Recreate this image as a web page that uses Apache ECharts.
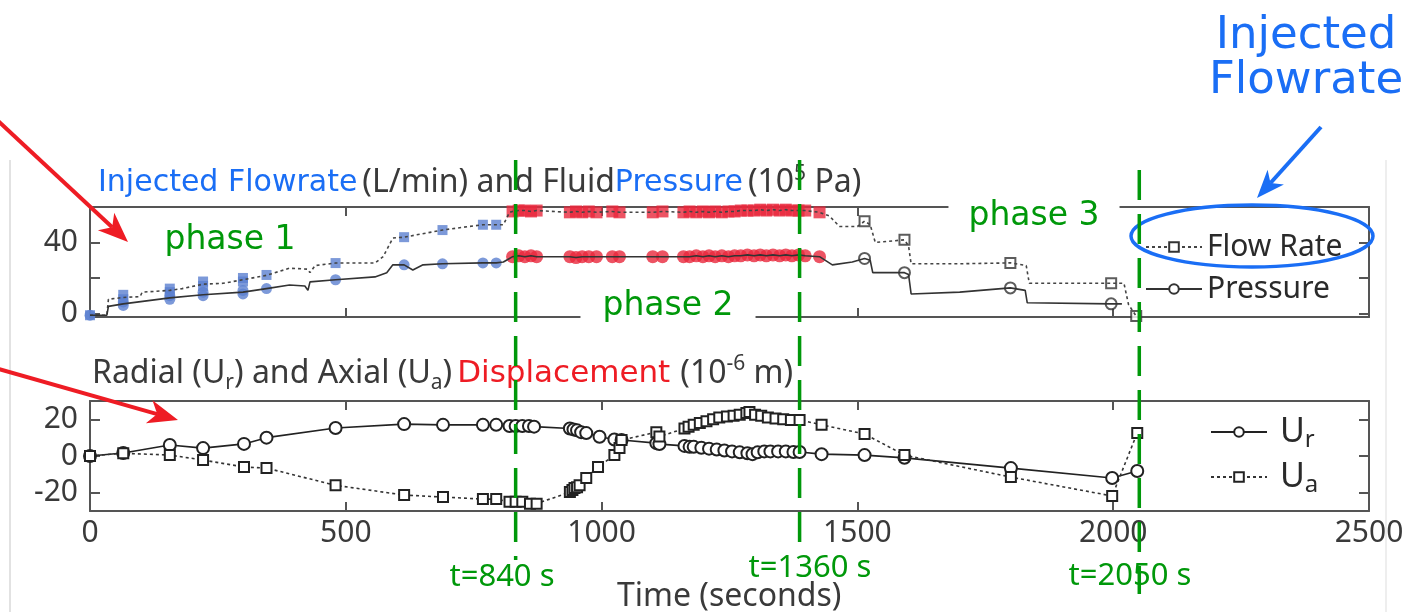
<!DOCTYPE html>
<html>
<head>
<meta charset="utf-8">
<script src="https://cdn.jsdelivr.net/npm/echarts@6/dist/echarts.min.js"></script>
<style>
html,body{margin:0;padding:0;background:#fff}
#chart{width:1420px;height:612px}
</style>
</head>
<body>
<div id="chart"></div>
<script>
// ---- data (time in s) ----
// top panel: flow rate (L/min) dotted, pressure (1e5 Pa) solid
const flowLineP1 = [[0,-1],[33,-1],[36,8],[65,9],[98,9.5],[102,12],[156,13],[180,14],[221,16.5],[260,17],[299,19],[345,21.5],[390,25.5],[425,25],[430,23],[440,27],[480,28.4],[557,28.4],[573,32],[592,42.5],[614,43],[689,47],[740,49],[768,50],[794,50],[808,50],[820,57]];
const flowLineP3 = [[1445,55],[1465,49],[1500,49],[1514,52],[1525,50],[1535,40],[1592,41.5],[1600,38],[1605,28],[1700,28],[1799,28.5],[1830,27],[1836,17],[1996,17],[2021,17],[2030,5],[2045,-1.5]];
const pressLineP1 = [[0,-1],[33,-1],[36,4],[65,5.4],[156,8.8],[221,10.5],[299,12],[345,14],[390,16],[420,15.5],[426,13],[430,17.8],[480,19],[557,20.6],[580,23],[592,27.4],[614,27.4],[631,24.5],[651,27.4],[689,28],[768,28.5],[794,28.5],[808,29],[820,31]];
const pressLineP3 = [[1451,27.4],[1490,29],[1514,31],[1525,30],[1530,23],[1592,23],[1600,22],[1605,11],[1700,12],[1799,14.4],[1828,13],[1832,6],[1996,5.4],[2017,5.4]];

const flowP1 = [[0,-1],[65,8],[65,10.5],[156,12],[156,14],[221,15.5],[221,18],[299,18],[299,20],[345,21.7],[480,28.4],[614,43],[689,47],[768,50],[794,50]];
const pressP1 = [[0,-1],[65,4.5],[65,6.5],[156,8],[156,10],[221,10],[221,12],[299,11],[299,13],[345,14],[480,19],[614,27.4],[689,28],[768,28.5],[794,28.5]];
const flowP2 = [[826,57.5],[838,58],[850,58],[862,57.5],[873,58],[938,57],[950,57.5],[962,57],[975,57.5],[990,57],[1021,57.5],[1035,57],[1100,57],[1119,57.5],[1160,57],[1172,57.5],[1185,57],[1198,57.5],[1210,57],[1222,57.5],[1235,57],[1248,57.5],[1260,57.5],[1272,58],[1285,58],[1298,58],[1310,58.5],[1322,58],[1335,58.5],[1348,58],[1360,58.5],[1372,58],[1385,58],[1398,58],[1426,57]];
const pressP2 = [[826,32],[838,32.5],[850,32],[862,32.5],[873,32],[938,32],[950,31.5],[962,32],[975,32],[990,32],[1021,32],[1035,32],[1100,32],[1119,32],[1160,32],[1172,32],[1185,32.5],[1198,32],[1210,32.5],[1222,32],[1235,32.5],[1248,32],[1260,32.5],[1272,32.5],[1285,33],[1298,32.5],[1310,33],[1322,32.5],[1335,33],[1348,32.5],[1360,33],[1372,32.5],[1385,33],[1398,32.5],[1426,32]];
const flowP3 = [[1514,52],[1592,41.5],[1799,28.5],[1996,17],[2045,-1.5]];
const pressP3 = [[1514,31],[1592,23],[1799,14.4],[1996,5.4]];

// bottom panel: displacement (1e-6 m)
const urData = [[0,0],[65,1.6],[156,6],[221,4.3],[301,6.6],[345,10],[480,15.3],[614,17.4],[690,17],[768,17],[794,17],[820,16.4],[832,16.4],[845,16.4],[858,16.4],[868,16],[938,15],[945,14.5],[952,14],[960,13],[970,12.5],[996,10.5],[1025,9],[1039,8.7],[1107,7],[1113,6.5],[1162,5.5],[1172,5],[1180,5],[1195,4.5],[1210,4],[1225,3.5],[1240,3],[1255,2.5],[1270,2],[1285,1.5],[1295,1],[1305,2],[1318,2.5],[1330,2.5],[1345,2.5],[1360,2.5],[1375,2.2],[1387,2.2],[1430,1],[1514,0.5],[1592,-1],[1800,-6.6],[1998,-12],[2047,-8.2]];
const uaData = [[0,0],[65,1.5],[156,0.5],[221,-2.2],[301,-6],[345,-6.6],[480,-16],[614,-21.3],[690,-22.4],[768,-23.5],[794,-23.5],[820,-25],[832,-25],[845,-25],[860,-26],[873,-26],[938,-19.7],[943,-18.5],[947,-17.5],[952,-17],[957,-16],[970,-12],[993,-6],[1025,0.5],[1035,4.4],[1039,8.7],[1107,13],[1113,10.6],[1162,15],[1170,16],[1180,17],[1192,18],[1205,19],[1218,20],[1230,21],[1245,21.5],[1258,22],[1270,22.5],[1283,23.5],[1289,24],[1300,22.5],[1312,22],[1325,21],[1340,20.5],[1355,20],[1370,19.7],[1387,19.7],[1430,17],[1514,12],[1592,0.5],[1800,-11.5],[1998,-21.8],[2047,12.6]];

const topTicks = [0, 20, 40];
const topLabels = [0, 40];
const botTicks = [-20, 0, 20];
const phaseLineX = [832, 1387, 2051];
const phaseLineLabels = ['t=840 s', 't=1360 s', 't=2050 s'];

const GRAY = '#3a3a3a';
const BLUE = '#1a6ef5';
const GREEN = '#00980a';
const RED = '#ee1c24';

const chart = echarts.init(document.getElementById('chart'));

function xAx(grid, pos, labels) {
  return {
    type: 'value', gridIndex: grid, position: pos, min: 0, max: 2500, interval: 500,
    axisLine: { onZero: false, lineStyle: { color: '#555', width: 2 } },
    axisTick: { inside: true, length: 9, lineStyle: { color: '#555', width: 2 } },
    axisLabel: { show: labels, color: GRAY, fontSize: 30, fontFamily: 'Noto Sans', margin: 7,
      formatter: function (v) { return String(v); } },
    splitLine: { show: false }
  };
}
function yAx(grid, pos, min, max, ticks, labels) {
  return {
    type: 'value', gridIndex: grid, position: pos, min: min, max: max,
    axisLine: { onZero: false, lineStyle: { color: '#555', width: 2 } },
    axisTick: { inside: true, length: 10, customValues: ticks, lineStyle: { color: '#555', width: 2 } },
    axisLabel: { show: !!labels, customValues: labels || ticks, color: GRAY, fontSize: 30, fontFamily: 'Noto Sans', margin: 12 },
    splitLine: { show: false }
  };
}

const lineDot = { color: '#444', width: 1.6, type: [3, 3] };
const lineSolid = { color: '#333', width: 1.6 };

chart.setOption({
  animation: false,
  backgroundColor: '#fff',
  grid: [
    { left: 90, right: 51, top: 207, height: 110 },
    { left: 90, right: 51, top: 401, height: 110 }
  ],
  xAxis: [xAx(0, 'bottom', false), xAx(0, 'top', false), xAx(1, 'bottom', true), xAx(1, 'top', false)],
  yAxis: [
    yAx(0, 'left', -2, 60, topTicks, topLabels),
    yAx(0, 'right', -2, 60, topTicks, null),
    yAx(1, 'left', -30, 30, botTicks, botTicks),
    yAx(1, 'right', -30, 30, botTicks, null)
  ],
  title: [
    {
      left: 94, top: 162, padding: [2, 4], backgroundColor: '#fff',
      text: '{b|Injected Flowrate} {k|(L/min) and Fluid}{b|Pressure} {k|(10}{sup|5}{k| Pa)}',
      textStyle: { fontWeight: 'normal', rich: {
        b: { color: BLUE, fontSize: 30, fontFamily: 'DejaVu Sans', fontWeight: 'normal', lineHeight: 38 },
        k: { color: GRAY, fontSize: 32, fontFamily: 'Noto Sans', fontWeight: 'normal', lineHeight: 38 },
        sup: { color: GRAY, fontSize: 21, fontFamily: 'Noto Sans', fontWeight: 'normal', lineHeight: 20, verticalAlign: 'top' }
      } }
    },
    {
      left: 88, top: 352, padding: [2, 4], backgroundColor: '#fff',
      text: '{k|Radial (U}{sub|r}{k|) and Axial (U}{sub|a}{k|)} {r|Displacement}  {k|(10}{sup|-6}{k| m)}',
      textStyle: { fontWeight: 'normal', rich: {
        r: { color: RED, fontSize: 31, fontFamily: 'DejaVu Sans', fontWeight: 'normal', lineHeight: 40 },
        k: { color: GRAY, fontSize: 32, fontFamily: 'Noto Sans', fontWeight: 'normal', lineHeight: 40 },
        sup: { color: GRAY, fontSize: 21, fontFamily: 'Noto Sans', fontWeight: 'normal', lineHeight: 20, verticalAlign: 'top' },
        sub: { color: GRAY, fontSize: 21, fontFamily: 'Noto Sans', fontWeight: 'normal', lineHeight: 20, verticalAlign: 'bottom' }
      } }
    },
    {
      left: 612, top: 576, text: 'Time (seconds)',
      textStyle: { color: GRAY, fontSize: 32, fontFamily: 'Noto Sans', fontWeight: 'normal' }
    }
  ],
  legend: [
    {
      data: ['Flow Rate', 'Pressure'], orient: 'vertical', left: 1140, top: 224,
      itemWidth: 56, itemHeight: 12, itemGap: 6, selectedMode: false,
      textStyle: { color: '#2a2a2a', fontSize: 30, fontFamily: 'Noto Sans', lineHeight: 36 }
    },
    {
      data: ['Ur', 'Ua'], orient: 'vertical', left: 1205, top: 410,
      itemWidth: 56, itemHeight: 12, itemGap: 8, selectedMode: false,
      formatter: function (n) { return n === 'Ur' ? '{u|U}{s|r}' : '{u|U}{s|a}'; },
      textStyle: { rich: {
        u: { color: '#2a2a2a', fontSize: 34, fontFamily: 'Noto Sans', lineHeight: 40, padding: [0, 0, 0, 8] },
        s: { color: '#2a2a2a', fontSize: 24, fontFamily: 'Noto Sans', lineHeight: 24, verticalAlign: 'bottom' }
      } }
    }
  ],
  series: [
    { name: 'Flow Rate', type: 'line', xAxisIndex: 0, yAxisIndex: 0, data: flowLineP1.concat(flowP2, flowLineP3),
      showSymbol: false, symbol: 'emptyRect', lineStyle: lineDot, itemStyle: { color: '#333' } },
    { name: 'Pressure', type: 'line', xAxisIndex: 0, yAxisIndex: 0, data: pressLineP1.concat(pressP2, pressLineP3),
      showSymbol: false, symbol: 'emptyCircle', lineStyle: lineSolid, itemStyle: { color: '#333' } },
    { type: 'scatter', xAxisIndex: 0, yAxisIndex: 0, data: flowP1, symbol: 'rect', symbolSize: 10, itemStyle: { color: '#5b7fd0' } },
    { type: 'scatter', xAxisIndex: 0, yAxisIndex: 0, data: pressP1, symbol: 'circle', symbolSize: 11, itemStyle: { color: '#5b7fd0' } },
    { type: 'scatter', xAxisIndex: 0, yAxisIndex: 0, data: flowP2, symbol: 'rect', symbolSize: 12, itemStyle: { color: '#e8283c' } },
    { type: 'scatter', xAxisIndex: 0, yAxisIndex: 0, data: pressP2, symbol: 'circle', symbolSize: 13, itemStyle: { color: '#e8283c' } },
    { type: 'scatter', xAxisIndex: 0, yAxisIndex: 0, data: flowP3, symbol: 'emptyRect', symbolSize: 10, itemStyle: { color: '#333', borderWidth: 1.5 } },
    { type: 'scatter', xAxisIndex: 0, yAxisIndex: 0, data: pressP3, symbol: 'emptyCircle', symbolSize: 11, itemStyle: { color: '#333', borderWidth: 1.5 } },
    { name: 'Ur', type: 'line', xAxisIndex: 2, yAxisIndex: 2, data: urData, showSymbol: true,
      symbol: 'emptyCircle', symbolSize: 12, lineStyle: { color: '#222', width: 1.6 }, itemStyle: { color: '#222', borderWidth: 1.5 } },
    { name: 'Ua', type: 'line', xAxisIndex: 2, yAxisIndex: 2, data: uaData, showSymbol: true,
      symbol: 'emptyRect', symbolSize: 10, lineStyle: { color: '#333', width: 1.6, type: [3, 3] }, itemStyle: { color: '#222', borderWidth: 1.5 } }
  ]
});

// ---- annotations ----
function arrow(x1, y1, x2, y2, color, L, W) {
  const dx = x2 - x1, dy = y2 - y1, d = Math.hypot(dx, dy);
  const ux = dx / d, uy = dy / d, px = -uy, py = ux;
  const bx = x2 - ux * L, by = y2 - uy * L;
  const nx = x2 - ux * L * 0.72, ny = y2 - uy * L * 0.72;
  return [
    { type: 'line', z: 100, shape: { x1: x1, y1: y1, x2: nx, y2: ny }, style: { stroke: color, lineWidth: 4 } },
    { type: 'polygon', z: 100, shape: { points: [[x2, y2], [bx + px * W, by + py * W], [nx, ny], [bx - px * W, by - py * W]] }, style: { fill: color } }
  ];
}
function txt(s, x, y, font, color, bg, pad) {
  return { type: 'text', z: 90, x: x, y: y, style: {
    text: s, font: font, fill: color, textAlign: 'center', textVerticalAlign: 'middle', align: 'center', verticalAlign: 'middle',
    backgroundColor: bg || null, padding: pad || 0 } };
}

const g = [];
g.push({ type: 'line', z: 1, shape: { x1: 10, y1: 160, x2: 10, y2: 612 }, style: { stroke: '#e2e2e2', lineWidth: 2 } });
g.push({ type: 'line', z: 1, shape: { x1: 1386, y1: 160, x2: 1386, y2: 612 }, style: { stroke: '#eeeeee', lineWidth: 2 } });
g.push(txt('phase 1', 230, 240, '33px "DejaVu Sans"', GREEN));
g.push(txt('phase 2', 668, 306, '33px "DejaVu Sans"', GREEN, '#fff', [8, 22]));
g.push(txt('phase 3', 1034, 216, '33px "DejaVu Sans"', GREEN, '#fff', [6, 20]));
g.push(txt('Injected\nFlowrate', 1306, 59, '45px "DejaVu Sans"', BLUE));
g.push({ type: 'ellipse', z: 100, shape: { cx: 1252, cy: 236, rx: 121, ry: 31 }, style: { fill: null, stroke: BLUE, lineWidth: 3.5 } });
Array.prototype.push.apply(g, arrow(-5, 118, 128, 242, RED, 30, 12));
Array.prototype.push.apply(g, arrow(-5, 368, 178, 420, RED, 30, 12));
Array.prototype.push.apply(g, arrow(1321, 127, 1257, 198, BLUE, 28, 11));

const lineSpans = [[160, 560], [160, 550], [170, 594]];
const labelPos = [[502, 577], [810, 568], [1130, 576]];
phaseLineX.forEach(function (v, i) {
  const px = chart.convertToPixel({ xAxisIndex: 2 }, v);
  g.push({ type: 'line', z: 110, shape: { x1: px, y1: lineSpans[i][0], x2: px, y2: lineSpans[i][1] },
    style: { stroke: GREEN, lineWidth: 3.5, lineDash: [30, 14] } });
  g.push(txt(phaseLineLabels[i], labelPos[i][0], labelPos[i][1], '31px "Noto Sans"', GREEN));
});

chart.setOption({ graphic: g });
</script>
</body>
</html>
